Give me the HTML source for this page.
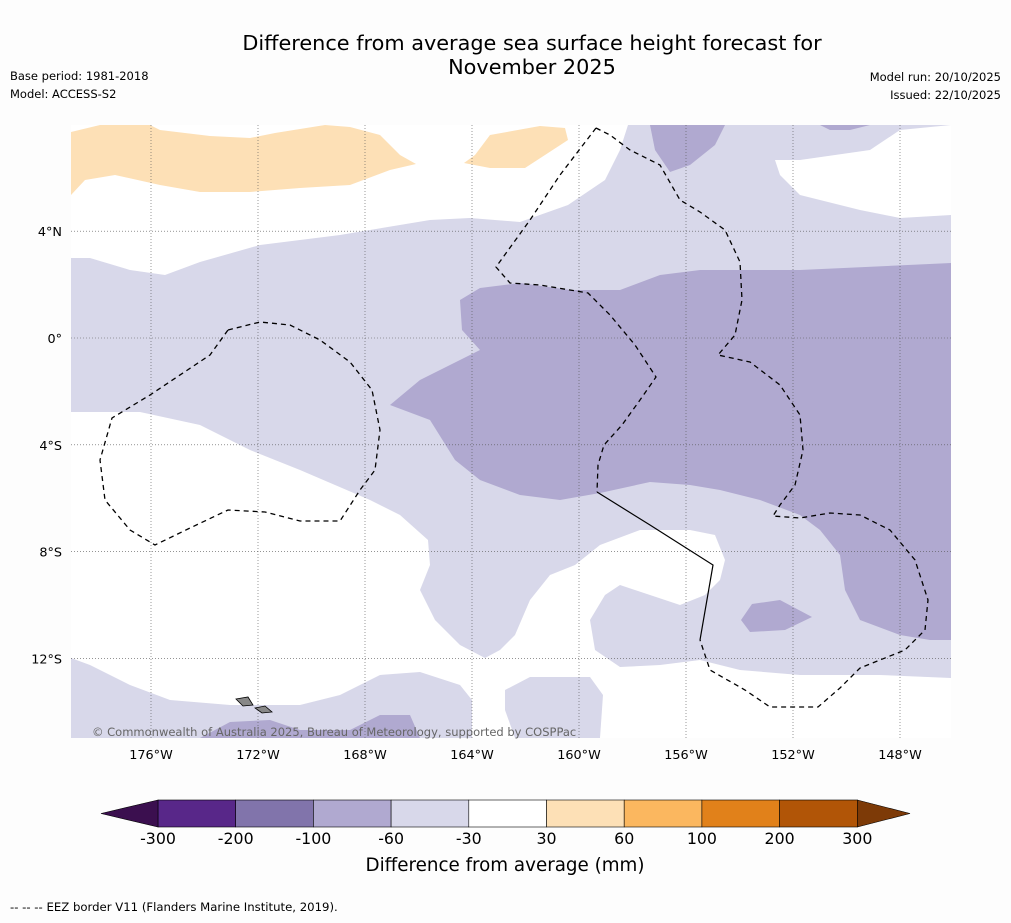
<!DOCTYPE html>
<html><head><meta charset="utf-8"><style>
body{margin:0;background:#fdfdfd;font-family:"DejaVu Sans",sans-serif;}
svg text{font-family:"DejaVu Sans",sans-serif;}
</style></head><body>
<svg id="chart" width="1011" height="919" xmlns="http://www.w3.org/2000/svg">
<rect width="1011" height="919" fill="#fdfdfd"/>
<text x="532" y="50" font-size="20.8" text-anchor="middle">Difference from average sea surface height forecast for</text>
<text x="532" y="74" font-size="20.8" text-anchor="middle">November 2025</text>
<text x="10" y="80" font-size="11.5">Base period: 1981-2018</text>
<text x="10" y="98" font-size="11.5">Model: ACCESS-S2</text>
<text x="1001" y="81" font-size="11.5" text-anchor="end">Model run: 20/10/2025</text>
<text x="1001" y="99" font-size="11.5" text-anchor="end">Issued: 22/10/2025</text>
<g id="map"></g>
<g id="cbar"></g>
<text x="505" y="871" font-size="18.3" text-anchor="middle">Difference from average (mm)</text>
<text x="10" y="911" font-size="11.7">--  --  -- EEZ border V11 (Flanders Marine Institute, 2019).</text>
</svg>
<script>
const cbLevels=[-300,-200,-100,-60,-30,30,60,100,200,300];
const cbColors=["#3b0f4f","#582789","#8174ab","#b0a9d0","#d8d8ea","#ffffff","#fde0b6","#fbb75f","#e1811a","#b15507","#7d3a07"];
const lonTicks=[-176,-172,-168,-164,-160,-156,-152,-148];
const latTicks=[4,0,-4,-8,-12];
const lonLabels=["176°W","172°W","168°W","164°W","160°W","156°W","152°W","148°W"];
const latLabels=["4°N","0°","4°S","8°S","12°S"];
const NS="http://www.w3.org/2000/svg";
const X0=71,X1=951,Y0=125,Y1=738;
function xLon(l){return 151+(l+176)*26.75;}
function yLat(l){return 338-l*26.7;}
function mk(t,a,p){const e=document.createElementNS(NS,t);for(const k in a)e.setAttribute(k,a[k]);(p||map).appendChild(e);return e;}
const map=document.getElementById('map');
const cbar=document.getElementById('cbar');
// contour geometry (pixel outlines of map regions)
const light=[[71,258],[90,258],[130,270],[165,275],[200,262],[260,245],[340,235],[430,220],[470,218],[520,222],[568,205],[605,180],[620,150],[628,125],[951,125],[951,678],[880,675],[800,675],[740,670],[700,660],[660,665],[620,667],[595,650],[590,620],[605,595],[620,585],[650,595],[680,605],[705,595],[720,580],[725,560],[715,535],[690,530],[640,530],[600,545],[575,565],[550,575],[530,600],[515,635],[500,650],[485,658],[460,645],[435,620],[420,590],[430,565],[428,540],[400,515],[370,500],[335,485],[300,470],[250,450],[200,425],[140,412],[71,412]];
const whiteTR=[[775,160],[800,160],[870,150],[900,130],[951,125],[951,215],[900,218],[860,210],[800,195],[780,175]];
const lightBL=[[71,658],[90,665],[130,685],[170,700],[230,705],[300,705],[340,695],[380,675],[420,672],[460,685],[472,700],[472,738],[71,738]];
const lightB2=[[505,690],[530,677],[590,677],[603,695],[600,738],[515,738],[505,710]];
const darkMain=[[460,300],[480,288],[520,283],[570,290],[620,290],[660,275],[700,270],[800,270],[951,263],[951,640],[930,640],[900,635],[860,620],[845,590],[840,555],[820,530],[800,515],[760,500],[720,490],[690,485],[650,482],[600,493],[560,500],[520,495],[480,480],[455,460],[430,420],[390,405],[420,380],[460,360],[480,350],[462,330]];
const darkBlob=[[741,620],[752,604],[780,600],[812,617],[785,630],[750,632]];
const darkTop=[[650,125],[725,125],[715,145],[690,165],[670,172],[655,150]];
const darkTop2=[[820,125],[870,125],[850,130],[830,130]];
const darkBot=[[200,738],[230,722],[270,720],[300,730],[350,730],[380,715],[410,715],[420,738]];
const orange1=[[71,132],[100,125],[150,125],[160,130],[210,136],[250,138],[275,133],[325,125],[350,127],[380,135],[400,155],[416,164],[390,170],[350,185],[300,188],[250,192],[200,192],[160,185],[115,175],[85,180],[71,195]];
const orange2=[[464,163],[475,155],[490,135],[540,126],[565,128],[568,140],[545,155],[525,168],[490,168]];
const eezLeft=[[228,330],[260,322],[290,325],[320,340],[350,362],[372,390],[380,430],[375,470],[360,490],[340,521],[300,521],[265,512],[228,510],[190,528],[155,545],[130,530],[105,500],[100,460],[112,418],[150,395],[210,355],[228,330]];
const eezR=[[596,128],[610,135],[630,150],[660,165],[680,200],[700,212],[725,230],[740,262],[742,300],[735,335],[718,355],[750,362],[780,385],[800,415],[803,450],[795,485],[780,505],[773,516],[800,518],[830,513],[860,515],[890,530],[915,560],[928,600],[925,630],[905,650],[860,668],[840,688],[818,707],[770,707],[745,690],[710,670],[700,640]];
const eezM=[[596,128],[560,175],[530,220],[496,267],[510,283],[540,285],[588,293],[610,315],[635,345],[656,377],[640,400],[622,425],[604,445],[598,465],[597,492]];
const solid=[[597,492],[650,525],[713,565],[700,640]];
const pts=a=>a.map(p=>p.join(',')).join(' ');
mk('rect',{x:X0,y:Y0,width:X1-X0,height:Y1-Y0,fill:'#ffffff'});
let e;
e=mk('polygon',{points:pts(light),fill:cbColors[4]});
e=mk('polygon',{points:pts(whiteTR),fill:'#ffffff'});
e=mk('polygon',{points:pts(lightBL),fill:cbColors[4]});
e=mk('polygon',{points:pts(lightB2),fill:cbColors[4]});
[darkMain,darkBlob,darkTop,darkTop2,darkBot].forEach(a=>{e=mk('polygon',{points:pts(a),fill:cbColors[3]});});
[orange1,orange2].forEach(a=>{e=mk('polygon',{points:pts(a),fill:cbColors[6]});});
// grid
lonTicks.forEach((l,i)=>{const x=xLon(l);
 e=mk('line',{x1:x,x2:x,y1:Y0,y2:Y1,stroke:'#555','stroke-width':0.6,'stroke-dasharray':'1,2'});
 e=mk('text',{x:x,y:759,'font-size':12.8,'text-anchor':'middle'});e.textContent=lonLabels[i];});
latTicks.forEach((l,i)=>{const y=yLat(l);
 e=mk('line',{x1:X0,x2:X1,y1:y,y2:y,stroke:'#555','stroke-width':0.6,'stroke-dasharray':'1,2'});
 e=mk('text',{x:62,y:y+5,'font-size':12.8,'text-anchor':'end'});e.textContent=latLabels[i];});
[eezLeft,eezR,eezM].forEach(a=>{e=mk('polyline',{points:pts(a),fill:'none',stroke:'#000','stroke-width':1.3,'stroke-dasharray':'5,4'});});
e=mk('polyline',{points:pts(solid),fill:'none',stroke:'#000','stroke-width':1.2});
e=mk('polygon',{points:'236,699 248,697 253,705 243,706',fill:'#888',stroke:'#000','stroke-width':0.8});
e=mk('polygon',{points:'255,708 265,706 272,712 262,713',fill:'#888',stroke:'#000','stroke-width':0.8});
e=mk('text',{x:92,y:736,'font-size':11.5,fill:'#666'});e.textContent='© Commonwealth of Australia 2025, Bureau of Meteorology, supported by COSPPac';
// colorbar
const cbX0=158,cbW=77.7,cbY=800,cbH=27;
cbLevels.slice(0,-1).forEach((v,i)=>{e=mk('rect',{x:cbX0+i*cbW,y:cbY,width:cbW,height:cbH,fill:cbColors[i+1],stroke:'#000','stroke-width':0.6},cbar);});
const cbEnd=cbX0+(cbLevels.length-1)*cbW;
e=mk('polygon',{points:`${cbX0},${cbY} 101,${cbY+cbH/2} ${cbX0},${cbY+cbH}`,fill:cbColors[0],stroke:'#000','stroke-width':0.6},cbar);
e=mk('polygon',{points:`${cbEnd},${cbY} 910,${cbY+cbH/2} ${cbEnd},${cbY+cbH}`,fill:cbColors[10],stroke:'#000','stroke-width':0.6},cbar);
cbLevels.forEach((v,i)=>{e=mk('text',{x:cbX0+i*cbW,y:844,'font-size':15.8,'text-anchor':'middle'},cbar);e.textContent=v;});
</script>
</body></html>
